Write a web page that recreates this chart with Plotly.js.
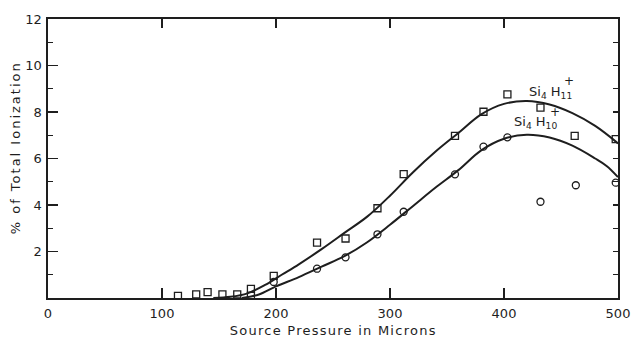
<!DOCTYPE html>
<html>
<head>
<meta charset="utf-8">
<script src="https://cdn.plot.ly/plotly-3.0.1.min.js"></script>
<style>
  html, body { margin: 0; padding: 0; background: #fff; }
  #chart { width: 637px; height: 340px; }
  .annotation[data-index="0"] text { letter-spacing: 1.25px; }
  .annotation[data-index="1"] text { letter-spacing: 2px; }
</style>
</head>
<body>
<div id="chart"></div>
<script>
// Measured points: Si4H11+ (squares) and Si4H10+ (circles)
const si4h11X = [114, 130, 140, 153, 166, 178, 178, 198, 236, 261, 289, 312, 357, 382, 403, 432, 462, 498];
const si4h11Y = [0.09, 0.16, 0.25, 0.16, 0.16, 0.39, 0.09, 0.95, 2.38, 2.56, 3.86, 5.33, 6.97, 8.01, 8.76, 8.19, 6.97, 6.83];

const si4h10X = [198, 236, 261, 289, 312, 357, 382, 403, 432, 463, 498];
const si4h10Y = [0.69, 1.26, 1.75, 2.74, 3.71, 5.32, 6.51, 6.91, 4.14, 4.85, 4.96];

// Smooth curves drawn through the data
const fit11X = [145, 160, 175, 190, 205, 220, 240, 260, 280, 300, 320, 340, 360, 380, 400, 420, 440, 460, 480, 500];
const fit11Y = [0, 0.05, 0.2, 0.55, 1.0, 1.45, 2.1, 2.8, 3.5, 4.4, 5.4, 6.3, 7.1, 7.9, 8.35, 8.47, 8.32, 7.95, 7.4, 6.65];

const fit10X = [170, 185, 200, 220, 240, 260, 280, 300, 320, 340, 360, 380, 400, 420, 440, 460, 480, 490, 500];
const fit10Y = [0, 0.15, 0.5, 0.9, 1.35, 1.8, 2.4, 3.15, 3.95, 4.75, 5.5, 6.35, 6.85, 7.02, 6.9, 6.55, 6.0, 5.68, 5.2];

const xTicks = [0, 100, 200, 300, 400, 500];
const yTicks = [2, 4, 6, 8, 10, 12];

const ink = '#1e1e1e';
const font = 'DejaVu Sans, Liberation Sans, sans-serif';

const traces = [
  { x: fit11X, y: fit11Y, mode: 'lines', line: { color: ink, width: 2, shape: 'spline', smoothing: 1 }, hoverinfo: 'skip' },
  { x: fit10X, y: fit10Y, mode: 'lines', line: { color: ink, width: 2, shape: 'spline', smoothing: 1 }, hoverinfo: 'skip' },
  { x: si4h11X, y: si4h11Y, mode: 'markers',
    marker: { symbol: 'square-open', size: 7, color: ink, line: { width: 1.3, color: ink } } },
  { x: si4h10X, y: si4h10Y, mode: 'markers',
    marker: { symbol: 'circle-open', size: 7, color: ink, line: { width: 1.3, color: ink } } },
  // invisible trace anchoring the right-hand and top tick axes
  { x: [0], y: [0], xaxis: 'x2', yaxis: 'y2', mode: 'markers', marker: { opacity: 0 }, hoverinfo: 'skip' }
];

const layout = {
  width: 637, height: 340,
  margin: { l: 48, r: 19, t: 19, b: 42 },
  paper_bgcolor: '#fff', plot_bgcolor: '#fff',
  showlegend: false,
  font: { family: font, color: ink, size: 13 },
  xaxis: {
    range: [0, 500], tickvals: xTicks, ticktext: xTicks.map(String),
    ticks: 'inside', ticklen: 10, tickwidth: 1.3, tickcolor: ink,
    showline: true, linecolor: ink, linewidth: 1.6,
    showgrid: false, zeroline: false, ticklabelstandoff: 3,
    tickfont: { size: 13, family: font, color: ink }
  },
  yaxis: {
    range: [0, 12], tickvals: yTicks, ticktext: yTicks.map(String),
    ticks: 'inside', ticklen: 10, tickwidth: 1.3, tickcolor: ink,
    minor: { ticks: 'inside', dtick: 1, ticklen: 5, tickwidth: 1.3, tickcolor: ink, showgrid: false },
    showline: true, linecolor: ink, linewidth: 1.6,
    showgrid: false, zeroline: false, ticklabelstandoff: 2,
    tickfont: { size: 13, family: font, color: ink }
  },
  xaxis2: {
    overlaying: 'x', side: 'top', anchor: 'y2', range: [0, 500],
    tickvals: [100, 200, 300, 400], showticklabels: false,
    ticks: 'inside', ticklen: 9, tickwidth: 1.3, tickcolor: ink,
    showline: true, linecolor: ink, linewidth: 1.6, showgrid: false, zeroline: false
  },
  yaxis2: {
    overlaying: 'y', side: 'right', anchor: 'x2', range: [0, 12],
    tickvals: [1, 2, 3, 4, 5, 6, 7, 8, 9, 10, 11], showticklabels: false,
    ticks: 'inside', ticklen: 5, tickwidth: 1.3, tickcolor: ink,
    showline: true, linecolor: ink, linewidth: 1.6, showgrid: false, zeroline: false
  },
  annotations: [
    { text: 'Source Pressure in Microns', xref: 'paper', yref: 'paper', x: 0.5, y: -0.118,
      xanchor: 'center', yanchor: 'middle', showarrow: false, font: { size: 13, family: font, color: ink } },
    { text: '% of Total Ionization', xref: 'paper', yref: 'paper', x: -0.058, y: 0.54,
      xanchor: 'center', yanchor: 'middle', textangle: -90, showarrow: false, font: { size: 13, family: font, color: ink } },
    { text: 'Si<sub>4</sub> H<sub>11</sub>', x: 420, y: 8.86, xanchor: 'left', yanchor: 'middle',
      showarrow: false, font: { size: 13, family: font, color: ink } },
    { text: '+', x: 457, y: 9.35, xanchor: 'center', yanchor: 'middle',
      showarrow: false, font: { size: 12, family: font, color: ink } },
    { text: 'Si<sub>4</sub> H<sub>10</sub>', x: 407, y: 7.57, xanchor: 'left', yanchor: 'middle',
      showarrow: false, font: { size: 13, family: font, color: ink } },
    { text: '+', x: 444.5, y: 8.02, xanchor: 'center', yanchor: 'middle',
      showarrow: false, font: { size: 12, family: font, color: ink } }
  ]
};

Plotly.newPlot('chart', traces, layout, { staticPlot: true, displayModeBar: false });
</script>
</body>
</html>
